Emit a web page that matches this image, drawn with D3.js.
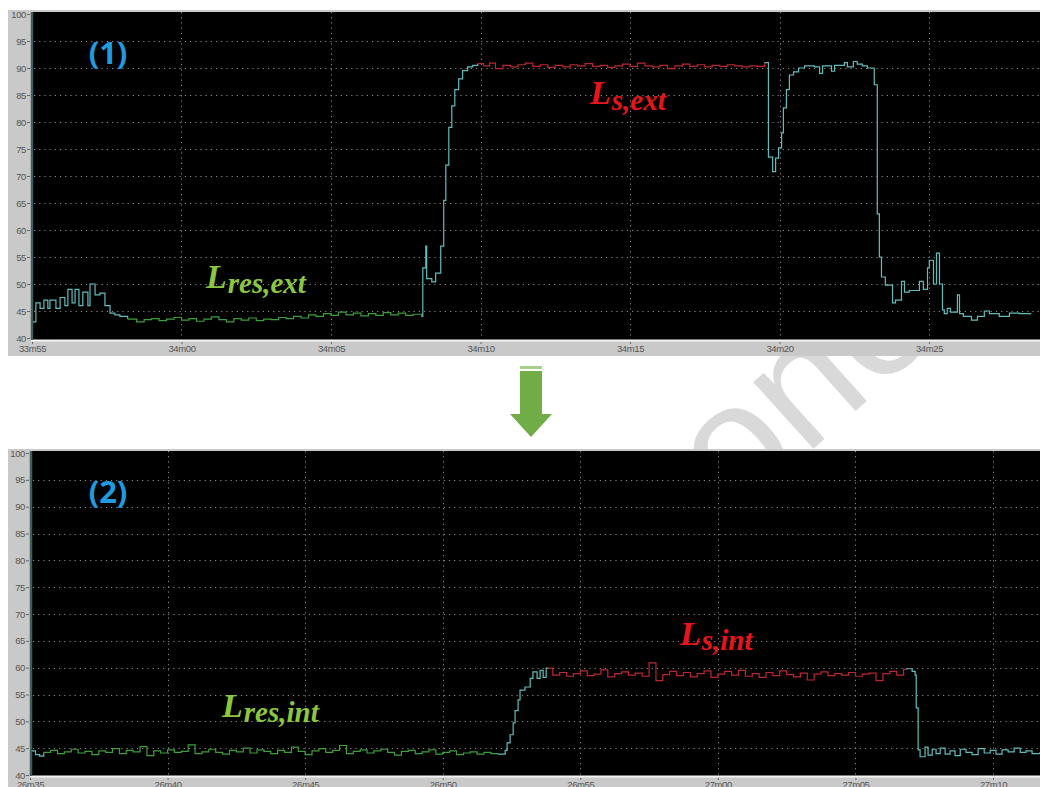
<!DOCTYPE html>
<html><head><meta charset="utf-8">
<script src="https://cdn.jsdelivr.net/npm/d3@7"></script>
<style>html,body{margin:0;padding:0;background:#fff;}svg{display:block;}</style>
</head><body>
<svg id="c" width="1040" height="787"></svg>
<script>
// ---------------- DATA ----------------
const yTicks = [40,45,50,55,60,65,70,75,80,85,90,95,100];
const p1TickSeconds = [0,5,10,15,20,25,30];
const p1TickLabels = ["33m55","34m00","34m05","34m10","34m15","34m20","34m25"];
const p2TickSeconds = [0,5,10,15,20,25,30,35];
const p2TickLabels = ["26m35","26m40","26m45","26m50","26m55","27m00","27m05","27m10"];

// panel (1): [seconds after 33m55, level]
const p1Start = [[0,43],[0.13,46.5],[0.27,45.5],[0.40,47],[0.53,45.5],[0.60,47],[0.80,45.5],[0.94,47.5],[1.10,46],[1.20,49],[1.34,46.5],[1.44,49],[1.57,46],[1.70,48.5],[1.87,46],[1.94,50],[2.11,48],[2.27,48.3],[2.44,46],[2.61,44.6],[2.77,44.3],[2.94,44.0]];
const p1ResExt = [[3.2,43.5],[3.5,43.0],[3.75,43.4],[4.0,43.6],[4.25,43.2],[4.5,43.5],[4.75,43.8],[5.0,43.3],[5.25,43.6],[5.5,43.1],[5.75,43.5],[6.0,43.9],[6.25,43.4],[6.5,43.0],[6.75,43.6],[7.0,43.3],[7.25,43.7],[7.5,43.2],[7.75,43.5],[8.0,43.4],[8.25,43.8],[8.5,43.6],[8.75,44.0],[9.0,43.7],[9.25,44.3],[9.5,44.0],[9.75,44.5],[10.0,44.2],[10.25,44.8],[10.5,44.3],[10.75,44.6],[11.0,44.1],[11.25,44.5],[11.5,44.2],[11.75,44.7],[12.0,44.3],[12.25,44.6],[12.5,44.2],[12.75,44.4]];
const p1Rise = [[13.03,44.0],[13.07,53],[13.17,57],[13.2,51],[13.37,50.4],[13.5,52],[13.67,57],[13.77,65.5],[13.84,72],[13.94,79],[14.04,83],[14.14,86],[14.27,88],[14.4,89.5],[14.57,90.2],[14.74,90.5]];
const p1LsExt = [[14.91,90.8],[15.1,90.4],[15.3,90.9],[15.5,89.9],[15.75,90.5],[16.0,90.2],[16.25,90.6],[16.5,90.9],[16.75,90.3],[17.0,90.6],[17.25,90.1],[17.5,90.5],[17.75,90.2],[18.0,90.6],[18.25,90.4],[18.5,90.8],[18.75,90.3],[19.0,90.5],[19.25,90.1],[19.5,90.4],[19.75,90.7],[20.0,90.3],[20.25,90.9],[20.5,90.4],[20.75,90.2],[21.0,90.5],[21.25,89.9],[21.5,90.4],[21.75,90.7],[22.0,90.3],[22.25,90.6],[22.5,90.2],[22.75,90.5],[23.0,90.3],[23.25,90.6],[23.5,90.4],[23.75,90.2],[24.0,90.4],[24.25,90.3]];
const p1Fall = [[24.5,91.0],[24.63,73.5],[24.77,70.8],[24.87,73.3],[24.97,75.2],[25.07,78],[25.13,82.6],[25.23,86],[25.33,88.7],[25.47,89.3],[25.64,90.0],[25.84,90.4],[26.17,90.2],[26.34,89.0],[26.44,90.4],[26.74,89.4],[26.84,90.5],[27.17,91.0],[27.27,90.2],[27.47,91.2],[27.6,90.7],[27.77,90.4],[27.94,90.0],[28.17,86.9],[28.27,63],[28.34,55],[28.41,51.3],[28.54,49.8],[28.78,46.5],[28.88,47],[29.08,50.5],[29.18,48.5],[29.34,48.8],[29.68,50.5],[29.81,49],[29.95,53],[30.01,54.4],[30.15,50],[30.25,55.7],[30.35,50],[30.45,45.2],[30.51,44.5],[30.61,45.5],[30.72,44.8],[30.95,48],[31.02,44.5],[31.15,44.0],[31.42,43.3],[31.62,44],[31.85,45],[32.02,44.5],[32.35,44],[32.69,44.6],[33.02,44.5],[33.42,44.5]];

// panel (2): [seconds after 26m35, level]
const p2Start = [[0,44.5],[0.2,43.8],[0.35,43.5]];
const p2ResInt = [[0.5,44.2],[0.75,44.6],[1.0,44.0],[1.25,44.3],[1.5,44.8],[1.75,44.1],[2.0,44.4],[2.25,43.8],[2.5,44.5],[2.75,44.2],[3.0,44.9],[3.25,44.0],[3.5,44.6],[3.75,44.3],[4.0,45.3],[4.25,43.6],[4.5,44.5],[4.75,44.1],[5.0,44.7],[5.25,44.2],[5.5,44.4],[5.75,45.6],[6.0,44.0],[6.25,44.3],[6.5,44.8],[6.75,44.2],[7.0,43.9],[7.25,44.6],[7.5,44.3],[7.75,45.0],[8.0,44.1],[8.25,44.7],[8.5,44.4],[8.75,44.0],[9.0,44.6],[9.25,44.2],[9.5,45.2],[9.75,44.4],[10.0,43.8],[10.25,44.5],[10.5,44.9],[10.75,44.2],[11.0,44.6],[11.25,45.5],[11.5,44.0],[11.75,44.4],[12.0,44.7],[12.25,44.1],[12.5,44.5],[12.75,44.8],[13.0,44.2],[13.25,43.7],[13.5,44.4],[13.75,44.6],[14.0,44.0],[14.25,44.3],[14.5,44.7],[14.75,43.9],[15.0,44.2],[15.25,44.5],[15.5,43.8],[15.75,44.1],[16.0,44.3],[16.25,43.9],[16.5,44.2],[16.75,44.0]];
const p2Rise = [[17.0,43.9],[17.27,44.6],[17.34,46],[17.45,47.5],[17.56,49.7],[17.63,52],[17.74,54],[17.81,55.8],[17.99,56.4],[18.18,58],[18.28,59.2],[18.43,58],[18.54,59.5],[18.65,58.2],[18.76,59.9]];
const p2LsInt = [[18.83,59.9],[19.0,58.6],[19.25,59.1],[19.5,58.4],[19.75,58.9],[20.0,59.4],[20.25,58.5],[20.5,58.8],[20.75,59.6],[21.0,58.3],[21.25,58.9],[21.5,59.2],[21.75,58.6],[22.0,59.0],[22.25,58.4],[22.5,60.9],[22.75,57.6],[23.0,58.7],[23.25,59.3],[23.5,58.5],[23.75,59.1],[24.0,58.3],[24.25,58.9],[24.5,59.4],[24.75,58.2],[25.0,58.8],[25.25,59.3],[25.5,58.6],[25.75,59.5],[26.0,58.4],[26.25,58.9],[26.5,58.2],[26.75,59.1],[27.0,58.5],[27.25,59.4],[27.5,58.7],[27.75,58.3],[28.0,59.0],[28.25,57.7],[28.5,58.8],[28.75,59.2],[29.0,58.5],[29.25,58.9],[29.5,58.6],[29.75,59.1],[30.0,58.4],[30.25,58.8],[30.5,59.0],[30.75,57.6],[31.0,58.9],[31.25,59.3],[31.5,58.6],[31.75,59.7]];
const p2Fall = [[31.84,59.8],[32.06,59.3],[32.17,58.6],[32.21,52.5],[32.28,44.7],[32.35,43.4],[32.53,45.2],[32.64,43.7],[32.79,44.8],[32.93,44.0],[33.08,45.0],[33.26,43.9],[33.44,44.5],[33.62,43.6],[33.81,44.8],[34.02,44.2],[34.24,43.8],[34.46,44.9],[34.68,44.1],[34.9,44.6],[35.11,43.9],[35.33,44.7],[35.55,44.3],[35.77,45.0],[35.99,44.2],[36.2,44.5],[36.42,44.0],[36.71,44.3]];

// ---------------- DRAW ----------------
const COL = {cyan:"#62bcbc", green:"#3f9e3a", red:"#b8282c"};
const svg = d3.select("#c");

// watermark (behind everything)
svg.append("text").attr("x",0).attr("y",0)
  .attr("transform","translate(840,425) rotate(-42)")
  .attr("text-anchor","middle")
  .style("font-family","Liberation Sans").style("font-size","170px")
  .attr("fill","#d9d9d9").text("one");

function panel(cfg){
  const g = svg.append("g");
  g.append("rect").attr("x",8).attr("y",cfg.top).attr("width",1032).attr("height",cfg.bottom-cfg.top).attr("fill","#c9c9c9");
  g.append("rect").attr("x",cfg.px0).attr("y",cfg.py0).attr("width",1040-cfg.px0).attr("height",cfg.py1-cfg.py0).attr("fill","#000");
  g.append("line").attr("x1",cfg.px0).attr("x2",1040).attr("y1",cfg.py1+0.5).attr("y2",cfg.py1+0.5).attr("stroke","#f4f4f4").attr("stroke-width",2);
  g.append("line").attr("x1",cfg.px0+1).attr("x2",cfg.px0+1).attr("y1",cfg.py0).attr("y2",cfg.py1).attr("stroke","#3f5f5f").attr("stroke-width",2.5);

  const x = d3.scaleLinear().domain(cfg.xd).range(cfg.xr);
  const y = d3.scaleLinear().domain([40,100]).range(cfg.yr);

  g.selectAll(".hg").data(yTicks.filter(v=>v>40 && v<100)).join("line")
    .attr("x1",cfg.px0+3).attr("x2",1040).attr("y1",d=>Math.round(y(d))+0.5).attr("y2",d=>Math.round(y(d))+0.5)
    .attr("stroke","#8a8a8a").attr("stroke-width",1).attr("stroke-dasharray","1.2,4");
  g.selectAll(".vg").data(cfg.ticks.filter(v=>v>0)).join("line")
    .attr("x1",d=>Math.round(x(d))+0.5).attr("x2",d=>Math.round(x(d))+0.5).attr("y1",cfg.py0).attr("y2",cfg.py1)
    .attr("stroke","#8a8a8a").attr("stroke-width",1).attr("stroke-dasharray","1.2,4");

  const ya = d3.axisLeft(y).tickValues(yTicks).tickSize(3).tickPadding(1);
  const yg = g.append("g").attr("transform",`translate(${cfg.px0-1},0)`).call(ya);
  yg.select(".domain").remove();
  yg.selectAll("line").attr("stroke","#666");
  yg.selectAll("text").attr("fill","#555").style("font-family","Liberation Sans").style("font-size","9.5px").attr("letter-spacing","-0.4");

  const xa = d3.axisBottom(x).tickValues(cfg.ticks).tickFormat((d,i)=>cfg.labels[i]).tickSize(2).tickPadding(1);
  const xg = g.append("g").attr("transform",`translate(0,${cfg.py1+2})`).call(xa);
  xg.select(".domain").remove();
  xg.selectAll("line").attr("stroke","#666");
  xg.selectAll("text").attr("fill","#555").style("font-family","Liberation Sans").style("font-size","9.5px").attr("letter-spacing","-0.4");

  const clipId = "clip"+cfg.id;
  svg.append("clipPath").attr("id",clipId).append("rect").attr("x",cfg.px0+2).attr("y",cfg.py0).attr("width",1040-cfg.px0).attr("height",cfg.py1-cfg.py0);
  const line = d3.line().x(d=>x(d[0])).y(d=>y(d[1])).curve(d3.curveStepAfter);
  const tg = g.append("g").attr("clip-path",`url(#${clipId})`);
  cfg.segments.forEach((s,i)=>{
    const next = cfg.segments[i+1];
    const pts = next ? s.data.concat([next.data[0]]) : s.data;
    tg.append("path").attr("d",line(pts)).attr("fill","none").attr("stroke",s.color).attr("stroke-width",1.2);
  });

  g.append("text").attr("x",108).attr("y",cfg.py0+52).attr("text-anchor","middle")
    .style("font-family","Noto Sans").style("font-weight","bold").style("font-size","31px")
    .attr("fill","#1f9be0").text(cfg.title);
  return {x,y};
}

panel({id:1, top:10, bottom:356, px0:31, py0:12, py1:340, xd:[0,30], xr:[32,929], yr:[338,14],
  ticks:p1TickSeconds, labels:p1TickLabels, title:"(1)",
  segments:[{data:p1Start,color:COL.cyan},{data:p1ResExt,color:COL.green},{data:p1Rise,color:COL.cyan},{data:p1LsExt,color:COL.red},{data:p1Fall,color:COL.cyan}]});
panel({id:2, top:449, bottom:787, px0:30, py0:451, py1:776, xd:[0,35], xr:[30,993], yr:[775,453],
  ticks:p2TickSeconds, labels:p2TickLabels, title:"(2)",
  segments:[{data:p2Start,color:COL.cyan},{data:p2ResInt,color:COL.green},{data:p2Rise,color:COL.cyan},{data:p2LsInt,color:COL.red},{data:p2Fall,color:COL.cyan}]});

function mathLabel(xp, yp, sub, color, dy){
  const t = svg.append("text").attr("x",xp).attr("y",yp)
    .style("font-family","Liberation Serif").style("font-style","italic").style("font-weight","bold").attr("fill",color);
  t.append("tspan").style("font-size","34px").text("L");
  t.append("tspan").attr("dy",dy).attr("dx",1).style("font-size","29px").text(sub);
}
mathLabel(590,104,"s,ext","#e8141b",6);
mathLabel(206,288,"res,ext","#8cc63f",5);
mathLabel(680,645,"s,int","#e8141b",5);
mathLabel(222,717,"res,int","#8cc63f",5);

const ag = svg.append("g");
ag.append("rect").attr("x",520).attr("y",366).attr("width",22).attr("height",3).attr("fill","#a8d08d");
ag.append("rect").attr("x",520).attr("y",371).attr("width",22).attr("height",44).attr("fill","#70ad47");
ag.append("path").attr("d","M510,414 L552,414 L531,437 Z").attr("fill","#70ad47");
</script>
</body></html>
